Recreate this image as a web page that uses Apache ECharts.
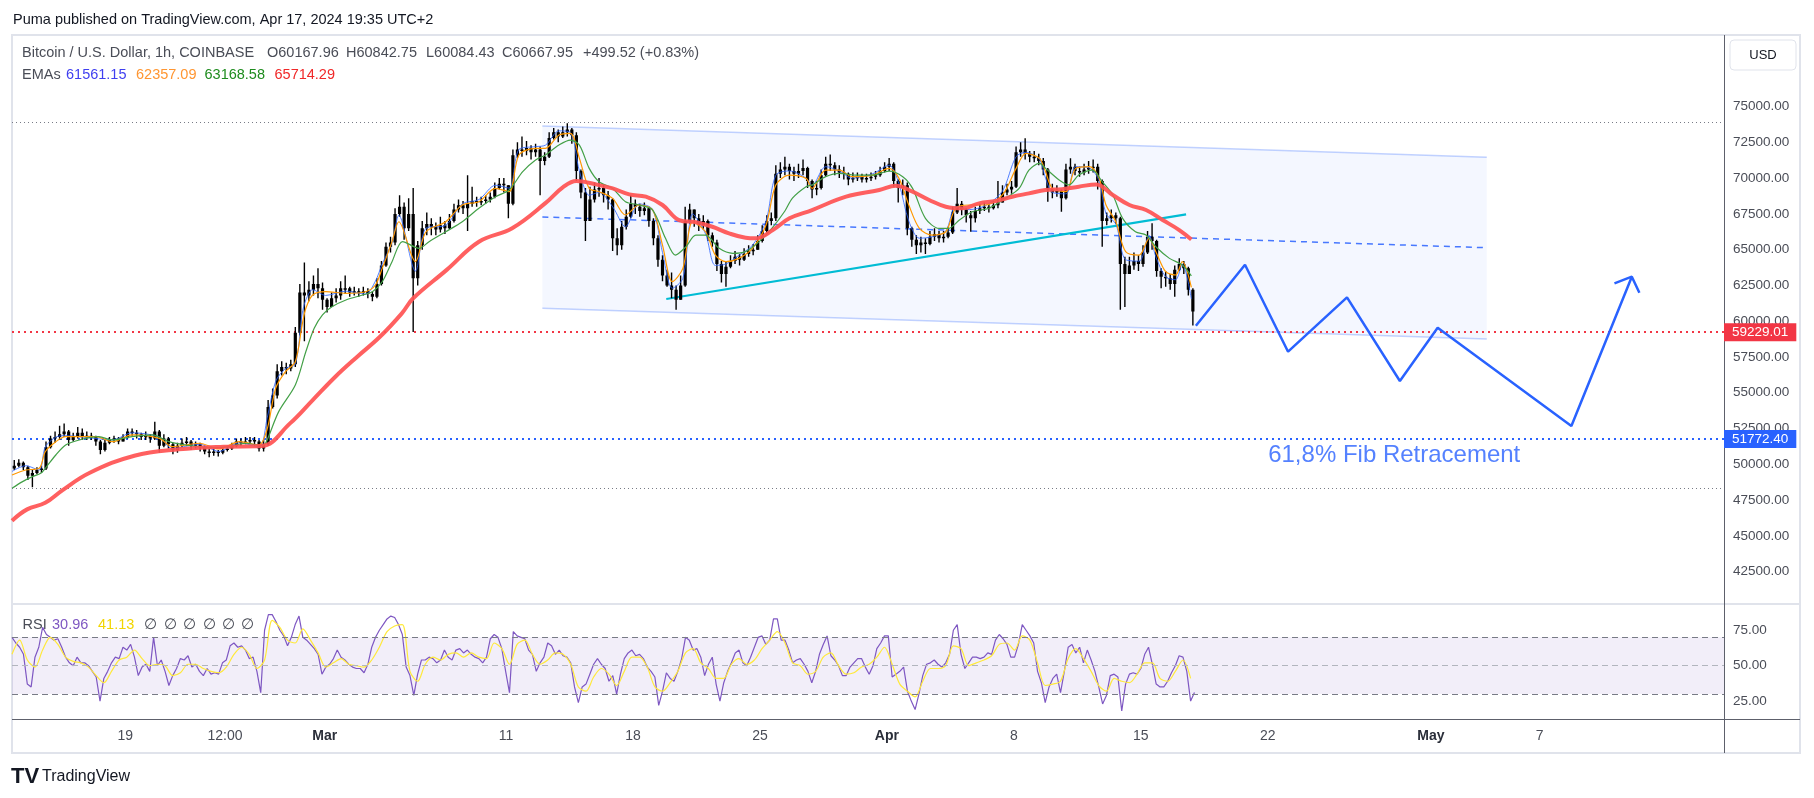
<!DOCTYPE html>
<html>
<head>
<meta charset="utf-8">
<title>BTCUSD 1h</title>
<script src="https://cdn.jsdelivr.net/npm/echarts@6/dist/echarts.min.js"></script>
<style>
html, body { margin: 0; padding: 0; background: #fff; }
#chart { width: 1814px; height: 798px; }
</style>
</head>
<body>
<div id="chart"></div>
<script>
// time is in hours from Feb 19 2024 00:00 (UTC+2); price bars are 6h blocks
var barStart = -150, barStep = 6;
var firstOpen = 49700;
var closes = [
  49900,
  50100,49800,49200,49400, 49600,49700,51200,51800, 51900,52100,52300,51700, 51900,52200,51900,52000,
  51900,51600,51000,51500, 51700,51800,51600,51900, 52300,52200,52100,51900, 52000,51800,52300,51300,
  51800,51400,51000,51300, 51500,51600,51300,51400, 51200,50900,50800,50900, 50800,51000,51100,51300,
  51600,51500,51600,51700, 51600,51100,51400,54000, 54800,56500,56800,56700, 57000,59200,62000,61800,
  62200,62600,62300,61500,
  61000,61600,61800,62300, 62300,62000,62100,62000, 62100,61900,61700,62600, 63900,65200,65500,67500,
  68000,66500,67500,63000, 65300,66500,66800,66600, 66400,66700,66500,67000, 67800,68100,67900,68200,
  68400,68300,68400,68500, 68700,69300,69600,69500, 68200,71600,72000,71900, 72100,71800,72000,71200,
  71500,72800,73200,72900, 73200,73400,73000,70500, 69000,67000,68500,69200, 69300,68800,68500,65800,
  65300,66600,67300,68200, 68000,67700,67900,67000, 65800,64300,63200,62500, 62200,61500,62500,67000,
  67800,67200,66700,67000, 66000,65500,64000,63300, 63800,64200,64500,64300, 64700,64900,65000,65600,
  66300,67000,67200,70300, 70600,70800,70500,70300, 70500,70700,69800,69200, 69300,70200,71000,70900,
  70600,70400,70300,69900, 70000,70100,69900,70000, 70100,70200,70500,70800,
  71000,69800,69300,69500, 66500,65700,65300,65500, 65400,65900,66100,65800, 65900,66200,67600,68200,
  67800,67400,67200,67700, 67900,68000,67900,68100, 68300,69000,69200,69400, 71800,72000,71700,71500,
  71400,71200,70600,69200, 69000,69100,68600,70600, 70800,70500,70400,70600, 70700,70800,69800,67000,
  67200,67400,67200,64000, 63300,63900,64200,64000, 64800,65900,65600,63500, 63100,63000,62600,63600,
  64000,63700,62200,60670
];
var highs = [
  50300,
  50350,50200,49900,49600, 49800,49900,51600,52000, 52300,52700,52850,52400, 52200,52600,52500,52300,
  52200,52000,51700,51700, 51900,52000,51900,52100, 52500,52500,52400,52200, 52300,52100,52980,52400,
  52100,51900,51500,51500, 51800,51900,51700,51600, 51500,51300,51100,51100, 51000,51200,51300,51500,
  51800,51800,51900,51900, 51900,51700,51700,54500, 55300,57000,57200,57100, 57300,59600,62600,64100,
  62800,63200,63700,62700,
  61600,62000,62300,62800, 63200,62400,62400,62300, 62400,62300,62100,63000, 64200,65500,65900,67900,
  68800,68300,68600,69300, 65600,67000,67600,67200, 66900,67300,67000,67500, 68200,68500,68400,70200,
  69400,68700,68700,68800, 69000,69700,70000,70000, 69500,72000,72500,72900, 72600,72300,72400,72200,
  71800,73200,73500,73400, 73600,73835,73500,73200, 70600,69300,69400,69700, 70000,69500,69100,68600,
  66500,67000,67800,68800, 68500,68200,68300,68000, 67200,66000,64600,63600, 63400,62500,63200,68000,
  68200,67800,67500,67400, 67100,66200,65700,64200, 64200,64600,64900,64700, 65100,65300,65400,66000,
  66700,67400,67600,70900, 71100,71500,71000,70800, 71000,71300,70800,69900, 69800,70600,71500,71650,
  71100,70900,70800,70400, 70400,70400,70300,70300, 70400,70500,70800,71100,
  71400,71100,69900,69900, 69700,66600,66000,65900, 65800,66300,66500,66300, 66300,66600,68000,69300,
  68400,67900,67700,68000, 68200,68300,68200,68400, 69800,69500,69600,69800, 72200,72500,72780,71900,
  71900,71700,71400,70700, 69600,69500,69200,71000, 71380,71000,70800,71000, 71200,71300,71000,69900,
  67600,67800,67600,67300, 64500,64500,64800,64600, 65300,66300,66840,65700, 63700,63500,63300,63900,
  64400,64200,63800,62300
];
var lows = [
  49600,
  49800,49600,48900,48400, 49300,49400,49600,51100, 51500,51700,51900,51300, 51600,51800,51700,51700,
  51700,51300,50700,50900, 51400,51500,51400,51600, 51800,52000,51800,51700, 51700,51500,51700,50800,
  51200,51100,50700,50800, 51200,51300,51000,51100, 50900,50700,50500,50600, 50550,50700,50900,51000,
  51200,51300,51400,51400, 51300,50900,50900,51300, 53900,54600,56200,56300, 56500,56800,59000,58600,
  61400,61800,61600,60800,
  60600,61000,61300,61500, 61900,61700,61800,61700, 61800,61600,61400,61600, 62500,63800,64800,65300,
  67300,65700,66300,59250, 62500,65000,66000,66000, 66000,66200,66100,66400, 66900,67600,67500,66300,
  68000,68000,68100,68200, 68300,68600,69200,69000, 67200,68100,71400,71500, 71600,71300,71500,68800,
  70900,71400,72700,72500, 72800,72900,72400,69800, 68600,65600,67300,68300, 68700,68300,67800,64900,
  64600,65000,66400,67200, 67500,67300,67400,66600, 65300,63800,62800,62400, 61600,60800,61500,62400,
  66800,66600,66300,66400, 65600,65200,63500,62700, 62400,63700,64000,63900, 64200,64500,64600,65000,
  65500,66200,66700,67000, 70000,70200,69900,69800, 70000,70200,69300,68600, 68800,69200,70100,70500,
  70200,70000,69900,69500, 69700,69800,69700,69700, 69800,69900,70100,70400,
  70500,69400,68300,68800, 66000,65200,64700,64800, 64700,65300,65600,65500, 65500,65800,66100,67500,
  67400,66900,66250,66900, 67500,67700,67600,67800, 67900,68600,68800,68900, 69300,71500,71300,71100,
  71100,70900,70200,68350, 68600,68700,67650,68500, 70300,70200,70100,70200, 70300,70400,69200,65200,
  66700,66900,66800,60800, 61000,63300,63600,63500, 63800,64700,65000,63100, 62300,62400,62200,61700,
  63500,63300,61800,59700
];

// moving averages as [hour, price]
var blueEma = [[-150,49500],[-132,49900],[-114,49600],[-106,51200],[-92,51900],[-79,52000],[-39,51800],[-17,51700],[9,52200],[45,51900],[62,51100],[98,51400],[124,50900],[151,51500],[177,51200],[188,53300],[199,55800],[212,56700],[225,57000],[234,60500],[239,61500],[248,62200],[265,61800],[292,62100],[318,61900],[331,62800],[340,64000],[353,65500],[362,67400],[384,63500],[398,66500],[424,66700],[446,68200],[468,68500],[490,69500],[508,69300],[521,72000],[543,72200],[556,72300],[574,73300],[589,73200],[601,70500],[614,68800],[627,69000],[645,68000],[662,66600],[680,68200],[698,67800],[711,64800],[724,62300],[738,63000],[751,67500],[768,66100],[781,63900],[795,64000],[812,64600],[830,65300],[848,67000],[861,70200],[879,70500],[901,70000],[909,69500],[927,70800],[945,70500],[962,70000],[989,70300],[1011,70900],[1024,69600],[1037,67000],[1051,65800],[1068,65900],[1086,66300],[1099,68000],[1117,67800],[1139,68100],[1161,69100],[1179,71500],[1192,71800],[1210,71300],[1218,70000],[1227,69000],[1245,68900],[1258,70800],[1276,70700],[1289,69800],[1298,67500],[1311,66800],[1324,64300],[1342,64200],[1355,66000],[1364,64500],[1377,63100],[1390,62900],[1399,64000],[1411,61561]];
var orangeEma = [[-150,49254],[-132,49600],[-114,49720],[-106,50880],[-92,51580],[-79,51930],[-39,51930],[-17,51580],[9,52050],[45,51815],[62,51230],[98,51470],[124,51070],[151,51580],[177,51350],[188,52510],[199,55310],[212,56470],[225,57170],[234,59730],[239,60900],[248,61830],[265,62060],[292,61950],[318,62060],[331,62530],[340,63690],[353,65560],[362,66950],[384,64160],[398,66250],[424,66950],[446,68120],[468,68350],[490,69280],[508,69050],[521,71610],[543,72080],[556,72080],[574,73010],[589,73130],[601,71380],[614,69280],[627,69050],[645,68580],[662,67420],[680,68120],[698,67770],[711,65320],[724,62760],[738,63690],[751,66950],[768,66250],[781,64620],[795,64160],[812,64390],[830,65090],[848,66720],[861,69520],[879,70210],[901,69980],[909,69280],[927,70560],[945,70560],[962,70100],[989,70210],[1011,70680],[1024,69980],[1037,68120],[1051,66490],[1068,66020],[1086,66250],[1099,67890],[1117,68120],[1139,68120],[1161,68820],[1179,70680],[1192,71730],[1210,71380],[1218,70450],[1227,69280],[1245,69050],[1258,70680],[1276,70800],[1289,69980],[1298,68120],[1311,66950],[1324,64860],[1342,64620],[1355,65790],[1364,64860],[1377,63460],[1390,63230],[1399,64160],[1411,62357]];
var greenEma = [[-150,48322],[-136,48790],[-123,49140],[-112,49370],[-106,49720],[-92,50650],[-79,51350],[-61,51700],[-35,51930],[-17,51700],[9,51930],[36,52050],[58,51580],[80,51350],[115,51160],[137,51230],[159,51470],[181,51300],[186,51500],[203,53680],[225,55540],[239,57880],[250,59500],[261,60440],[274,61020],[292,61480],[314,61830],[327,62060],[340,62760],[353,64160],[367,65560],[389,65090],[402,65560],[424,66250],[446,66950],[468,67890],[490,68700],[508,69170],[526,70450],[543,71260],[556,71610],[574,72310],[589,72660],[601,72310],[614,70680],[627,69750],[645,69280],[662,68350],[680,68120],[698,67770],[715,65790],[728,64620],[742,65200],[755,66020],[768,66020],[786,65090],[804,64740],[821,64860],[839,65560],[856,66500],[873,67700],[883,68600],[901,69400],[909,69520],[927,70100],[945,70330],[967,70210],[989,70210],[1011,70490],[1029,70100],[1042,69280],[1059,67190],[1077,66490],[1090,66490],[1104,67070],[1121,67650],[1143,67890],[1165,68585],[1183,69280],[1196,70560],[1210,71030],[1218,70680],[1236,69870],[1249,69520],[1262,70210],[1280,70560],[1293,69750],[1307,68815],[1320,67190],[1337,66250],[1351,66020],[1364,65200],[1382,64390],[1399,63930],[1411,63168]];
var redEma = [[-150,46060],[-130,46850],[-106,47310],[-83,48200],[-47,49410],[12,50600],[71,51045],[130,51230],[180,51275],[218,52860],[248,54490],[278,56120],[307,57520],[337,58910],[366,60550],[381,61600],[425,63570],[468,65550],[512,66500],[556,68250],[579,69350],[597,69800],[623,69560],[645,69280],[667,68860],[689,68700],[711,68120],[733,67070],[755,66910],[777,66600],[799,66140],[821,65830],[834,65790],[857,66370],[879,67190],[909,67770],[954,68700],[998,69165],[1020,69470],[1042,69050],[1064,68470],[1086,68000],[1108,67890],[1130,68235],[1152,68400],[1174,68700],[1196,68930],[1218,69165],[1240,69230],[1262,69400],[1285,69560],[1307,68815],[1329,68120],[1351,67770],[1373,67070],[1395,66370],[1411,65714]];

// RSI (purple) and its average (yellow), sampled at even steps
var rsiStart = -150, rsiStep = 5.065;
var rsi = [
  70,66,63,58,37,35,56,63,77,72, 70,68,69,63,56,52,50,56,52,52, 50,46,42,25,41,46,52,56,55,63,
  61,65,56,43,49,51,46,70,50,54, 46,36,43,48,55,54,57,49,51,46, 43,48,44,45,44,52,54,64,66,63,
  64,61,55,56,46,31,75,86,86,81, 75,71,64,70,79,85,70,68,65,62, 58,44,49,51,55,61,56,54,51,49,
  48,48,45,51,63,70,75,79,83,85, 84,79,72,49,43,29,44,54,54,56, 55,52,54,61,56,54,61,62,59,61,
  58,56,55,52,56,69,72,70,62,46, 31,74,71,70,69,61,58,46,52,56, 66,64,58,61,57,56,52,35,24,35,
  37,44,51,55,51,48,39,
  43,30,44,55,59,61,57,58,55,49, 46,42,22,32,45,41,39,46,55,70, 68,61,62,56,43,51,56,37,25,38,
  46,52,59,61,52,50,56,63,70,71, 65,68,83,83,68,68,61,52,54,55, 51,46,38,46,58,65,71,57,54,50,
  43,43,49,52,55,55,49,44,50,62, 66,71,71,42,44,46,49,32,25,19, 30,43,51,52,54,51,49,52,58,75,
  79,58,48,52,56,56,55,56,59,58, 68,72,69,65,56,56,65,79,75,71, 66,46,38,24,35,41,44,31,46,63,
  65,59,63,52,61,54,46,35,23,29, 43,44,42,18,37,44,45,44,48,58, 63,51,37,35,35,39,45,50,57,56,
  46,25,31
];
var rsiMaStep = 10.13;
var rsiMa = [
  58,68,54,49,61,70,65,56,53,52, 49,43,38,46,54,56,61,55,50,51, 50,43,45,51,51,48,46,45,49,58,
  63,58,48,54,82,77,68,66,76,68, 59,49,52,55,51,50,49,54,63,74, 78,79,46,39,51,56,54,58,59,56,
  59,56,55,66,62,51,65,68,58,51, 54,59,58,51,35,32,42,48,
  44,36,46,56,56,49,35,32,38,46, 59,62,52,48,41,41,51,55,51,54, 62,68,74,66,52,50,44,46,56,59,
  50,44,45,49,51,56,63,51,37,32, 28,39,48,48,50,64,62,50,52,54, 57,65,66,61,71,68,52,36,37,39,
  55,62,55,46,36,32,41,39,38,44, 52,52,41,39,46,54,41
];

// drawings
var chanX = [552, 1802];
var chanTop = [73641, 71453];
var chanBot = [60901, 58756];
var chanMid = [67282, 65136];
var trendLine = [[716, 61551], [1404, 67470]];
var projection = [[1417,59686],[1482,63948],[1539,57869],[1617,61670],[1687,55821],[1737,59546],[1914,52676],[1994,63110]];
var arrowHead = [[1971,62648],[1994,63110],[2004,61992]];
var fibLevel = 51772.40, supportLevel = 59229.01;
var fibTop = 73899, fibBottom = 48358;

var tickHours = [0, 132, 264, 504, 672, 840, 1008, 1176, 1344, 1512, 1728, 1872];
var tickLabels = ['19', '12:00', 'Mar', '11', '18', '25', 'Apr', '8', '15', '22', 'May', '7'];

var FONT = 'Liberation Sans, Arial, sans-serif';
var xMin = -150, xMax = 2116;

var candles = [];
for (var i = 0; i < closes.length; i++) {
  var o = i === 0 ? firstOpen : closes[i - 1];
  var c = closes[i];
  candles.push([barStart + i * barStep + barStep / 2, o, c, Math.min(lows[i], o, c), Math.max(highs[i], o, c)]);
}
var rsiData = rsi.map(function (v, k) { return [rsiStart + k * rsiStep, v]; });
var rsiMaData = rsiMa.map(function (v, k) { return [rsiStart + k * rsiMaStep, v]; });

function renderCandle(params, api) {
  var t = api.value(0);
  var o = api.value(1), c = api.value(2);
  var top = api.coord([t, Math.max(o, c)]);
  var bot = api.coord([t, Math.min(o, c)]);
  var hi = api.coord([t, api.value(4)]);
  var lo = api.coord([t, api.value(3)]);
  return {
    type: 'group',
    children: [
      { type: 'line', shape: { x1: hi[0], y1: hi[1], x2: lo[0], y2: lo[1] }, style: { stroke: '#000', lineWidth: 1.4 } },
      { type: 'rect', shape: { x: top[0] - 1.6, y: top[1], width: 3.2, height: Math.max(bot[1] - top[1], 1.5) }, style: { fill: '#000' } }
    ]
  };
}

function renderChannel(params, api) {
  var a = api.coord([chanX[0], chanTop[0]]);
  var b = api.coord([chanX[1], chanTop[1]]);
  var c = api.coord([chanX[1], chanBot[1]]);
  var d = api.coord([chanX[0], chanBot[0]]);
  return { type: 'polygon', shape: { points: [a, b, c, d] }, style: { fill: 'rgba(41,98,255,0.05)' } };
}

function line(data, color, width, z, extra) {
  var s = {
    type: 'line', data: data, symbol: 'none', z: z, silent: true,
    lineStyle: { color: color, width: width }
  };
  for (var k in extra) s[k] = extra[k];
  return s;
}

function priceTag(value, color) {
  return {
    yAxis: value,
    lineStyle: { color: color, type: [2, 4], width: 2 },
    label: {
      show: true, position: 'end', distance: 0, formatter: value.toFixed(2),
      backgroundColor: color, color: '#fff', padding: [2, 8], fontSize: 13.5, fontFamily: FONT
    }
  };
}

function txt(x, y, text, color, size, extra) {
  var t = { type: 'text', x: x, y: y, silent: true, style: { text: text, fill: color, font: size + 'px ' + FONT, verticalAlign: 'middle' } };
  if (extra) for (var k in extra) t.style[k] = extra[k];
  return t;
}

var chart = echarts.init(document.getElementById('chart'));
var gray = '#4a4d57';

var option = {
  animation: false,
  textStyle: { fontFamily: FONT },
  grid: [
    { left: 12, right: 90, top: 35, height: 572.4, outerBoundsMode: 'none' },
    { left: 12, right: 90, top: 594.8, height: 141.75, outerBoundsMode: 'none' },
    { left: 12, right: 90, top: 604, height: 115, outerBoundsMode: 'none' }
  ],
  xAxis: [
    { gridIndex: 0, type: 'value', min: xMin, max: xMax, show: false },
    { gridIndex: 1, type: 'value', min: xMin, max: xMax, show: false },
    {
      gridIndex: 2, type: 'value', min: xMin, max: xMax, interval: 6,
      axisLine: { show: false }, axisTick: { show: false }, splitLine: { show: false },
      axisLabel: {
        margin: 10, fontSize: 14, color: gray,
        rich: { m: { fontSize: 14, fontWeight: 'bold', color: '#2a2e39' } },
        formatter: function (v) {
          var i = tickHours.indexOf(Math.round(v));
          if (i < 0) return '';
          var s = tickLabels[i];
          return (s === 'Mar' || s === 'Apr' || s === 'May') ? '{m|' + s + '}' : s;
        }
      }
    }
  ],
  yAxis: [
    {
      gridIndex: 0, type: 'value', position: 'right', min: 40000, max: 80000, interval: 2500,
      axisLine: { show: false }, axisTick: { show: false }, splitLine: { show: false },
      axisLabel: {
        margin: 9, fontSize: 13.5, color: gray,
        formatter: function (v) { return (v >= 42500 && v <= 75000) ? v.toFixed(2) : ''; }
      }
    },
    {
      gridIndex: 1, type: 'value', position: 'right', min: 0, max: 100, interval: 25,
      axisLine: { show: false }, axisTick: { show: false }, splitLine: { show: false },
      axisLabel: {
        margin: 9, fontSize: 13.5, color: gray,
        formatter: function (v) { return (v > 0 && v < 100) ? v.toFixed(2) : ''; }
      }
    },
    { gridIndex: 2, type: 'value', min: 0, max: 1, show: false }
  ],
  series: [
    {
      type: 'custom', renderItem: renderChannel, data: [[chanX[0], chanTop[0]]],
      encode: { x: 0, y: 1 }, z: 1, silent: true
    },
    line([[chanX[0], chanTop[0]], [chanX[1], chanTop[1]]], 'rgba(41,98,255,0.28)', 1.5, 2),
    line([[chanX[0], chanBot[0]], [chanX[1], chanBot[1]]], 'rgba(41,98,255,0.28)', 1.5, 2),
    line([[chanX[0], chanMid[0]], [chanX[1], chanMid[1]]], 'rgba(41,98,255,0.85)', 1.5, 2, {
      lineStyle: { color: 'rgba(41,98,255,0.85)', width: 1.5, type: [6, 5] }
    }),
    line([[xMin, supportLevel], [xMax, supportLevel]], 'rgba(0,0,0,0)', 0, 3, {
      markLine: {
        symbol: ['none', 'none'], silent: true, animation: false,
        data: [
          { yAxis: fibTop, lineStyle: { color: '#787b86', type: [1, 3], width: 1 }, label: { show: false } },
          { yAxis: fibBottom, lineStyle: { color: '#787b86', type: [1, 3], width: 1 }, label: { show: false } },
          priceTag(supportLevel, '#f23645'),
          priceTag(fibLevel, '#2962ff')
        ]
      }
    }),
    line(trendLine, '#00bcd4', 2.2, 4),
    {
      type: 'custom', renderItem: renderCandle, data: candles,
      encode: { x: 0, y: [1, 2, 3, 4] }, z: 5, silent: true, clip: true
    },
    line(blueEma, 'rgba(41,98,255,0.8)', 1, 6, { smooth: 0.3 }),
    line(orangeEma, '#ff9800', 1.2, 6, { smooth: 0.3 }),
    line(greenEma, '#43a047', 1.2, 6, { smooth: 0.3 }),
    line(redEma, 'rgba(255,82,82,0.92)', 4, 7, { smooth: 0.4 }),
    line(projection, '#2962ff', 2.5, 8),
    line(arrowHead, '#2962ff', 2.5, 8),
    {
      type: 'scatter', data: [[1512, 50601]], symbolSize: 1, z: 8, silent: true,
      itemStyle: { color: 'rgba(0,0,0,0)' },
      label: { show: true, position: 'right', distance: 0, formatter: '61,8% Fib Retracement', fontSize: 24, color: '#2962ff', fontFamily: FONT }
    },
    line(rsiData, '#7e57c2', 1.2, 3, {
      xAxisIndex: 1, yAxisIndex: 1,
      markArea: { silent: true, itemStyle: { color: 'rgba(126,87,194,0.1)' }, data: [[{ yAxis: 30 }, { yAxis: 70 }]] },
      markLine: {
        symbol: ['none', 'none'], silent: true, animation: false, label: { show: false },
        data: [
          { yAxis: 70, lineStyle: { color: '#787b86', type: [6, 4], width: 1 } },
          { yAxis: 50, lineStyle: { color: '#b2b5be', type: [6, 4], width: 1 } },
          { yAxis: 30, lineStyle: { color: '#787b86', type: [6, 4], width: 1 } }
        ]
      }
    }),
    line(rsiMaData, '#ffe93b', 1.2, 4, { xAxisIndex: 1, yAxisIndex: 1, smooth: 0.3 })
  ],
  graphic: [
    { type: 'rect', silent: true, shape: { x: 12, y: 35, width: 1788, height: 718 }, style: { fill: 'none', stroke: '#e0e3eb', lineWidth: 2 } },
    { type: 'line', silent: true, shape: { x1: 12, y1: 604, x2: 1800, y2: 604 }, style: { stroke: '#e0e3eb', lineWidth: 2 } },
    { type: 'line', silent: true, shape: { x1: 12, y1: 719.5, x2: 1800, y2: 719.5 }, style: { stroke: '#5d606b', lineWidth: 1.2 } },
    { type: 'line', silent: true, shape: { x1: 1724.5, y1: 35, x2: 1724.5, y2: 753 }, style: { stroke: '#5d606b', lineWidth: 1 } },
    { type: 'rect', silent: true, shape: { x: 1730, y: 40, width: 66, height: 30, r: 4 }, style: { fill: '#fff', stroke: '#e0e3eb', lineWidth: 1 } },
    txt(1763, 55, 'USD', '#131722', 13, { align: 'center' }),
    txt(13, 20, 'Puma published on TradingView.com, Apr 17, 2024 19:35 UTC+2', '#131722', 14.5),
    txt(22, 53, 'Bitcoin / U.S. Dollar, 1h, COINBASE', gray, 14.5),
    txt(267, 53, 'O60167.96', gray, 14.5),
    txt(346, 53, 'H60842.75', gray, 14.5),
    txt(426, 53, 'L60084.43', gray, 14.5),
    txt(502, 53, 'C60667.95', gray, 14.5),
    txt(583, 53, '+499.52 (+0.83%)', gray, 14.5),
    txt(22, 75, 'EMAs', gray, 14.5),
    txt(66, 75, '61561.15', '#3f3ff0', 14.5),
    txt(136, 75, '62357.09', '#ff9632', 14.5),
    txt(204.5, 75, '63168.58', '#1e8c1e', 14.5),
    txt(274.5, 75, '65714.29', '#f02828', 14.5),
    txt(22.5, 625, 'RSI', gray, 14.5),
    txt(52, 625, '30.96', '#7e57c2', 14.5),
    txt(98, 625, '41.13', '#f2d600', 14.5),
    txt(144, 625, '\u2205', gray, 14.5),
    txt(163.5, 625, '\u2205', gray, 14.5),
    txt(183, 625, '\u2205', gray, 14.5),
    txt(202.5, 625, '\u2205', gray, 14.5),
    txt(222, 625, '\u2205', gray, 14.5),
    txt(241, 625, '\u2205', gray, 14.5),
    txt(11, 777, 'TV', '#131722', 22, { font: '900 22px ' + FONT }),
    txt(42, 777, 'TradingView', '#131722', 16)
  ]
};
chart.setOption(option);
</script>
</body>
</html>
